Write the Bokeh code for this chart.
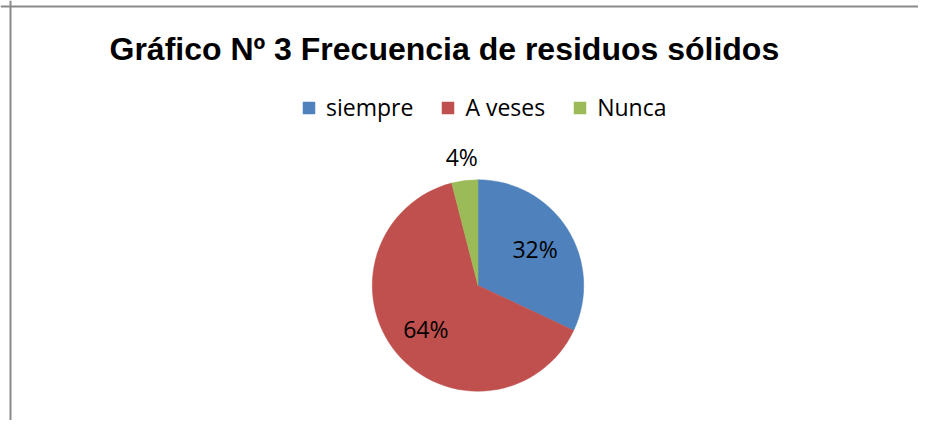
import numpy as np
from bokeh.plotting import figure
from bokeh.models import ColumnDataSource, Range1d, Span, Label, Legend, LegendItem
from bokeh.core.properties import value
from bokeh.embed import file_html
from bokeh.resources import INLINE

title = "Gráfico Nº 3  Frecuencia de residuos sólidos"
categories = ["siempre", "A veses", "Nunca"]
percents = [32, 64, 4]
colors = ["#4F81BD", "#C0504D", "#9BBB59"]

W, H = 918, 420
p = figure(width=W, height=H, output_backend="svg", toolbar_location=None,
           x_range=Range1d(0, W), y_range=Range1d(0, H), min_border=0,
           outline_line_color=None, background_fill_color="white")
p.axis.visible = False
p.xgrid.visible = False
p.ygrid.visible = False

# pie geometry (screen px inside figure)
cx, cy, r = 477.5, 135.0, 105.7

vals = np.array(percents, dtype=float)
frac = vals / vals.sum()
cum = np.concatenate([[0.0], np.cumsum(frac)])
start = np.pi / 2 - 2 * np.pi * cum[:-1]
end = np.pi / 2 - 2 * np.pi * cum[1:]
mid = (start + end) / 2

src = ColumnDataSource(dict(cat=categories, start=start, end=end, color=colors,
                            x=[cx] * 3, y=[cy] * 3))
wedges = p.wedge(x="x", y="y", radius=r, radius_units="screen", start_angle="start",
                 end_angle="end", direction="clock", fill_color="color",
                 line_color="color", line_width=0.5, source=src)

# labels: inside for big slices, outside for small
dist = np.where(frac > 0.1, 0.64 * r, r + 24)
lab = ColumnDataSource(dict(x=cx + dist * np.cos(mid), y=cy + dist * np.sin(mid),
                            t=[f"{v}%" for v in percents]))
p.text(x="x", y="y", text="t", source=lab, text_align="center", text_baseline="middle",
       text_font=value("Open Sans"), text_font_size="23px", text_color="black")

# title
p.add_layout(Label(x=109, y=372, text=title, text_font="Liberation Sans",
                   text_font_style="bold", text_font_size="32px", text_color="black",
                   text_baseline="alphabetic"))

# legend
items = [LegendItem(label=c, renderers=[wedges], index=i) for i, c in enumerate(categories)]
legend = Legend(items=items, orientation="horizontal", location=(301, 297),
                glyph_width=15, glyph_height=15, label_standoff=10, spacing=27,
                padding=0, margin=0, border_line_alpha=0, background_fill_alpha=0,
                label_text_font="Open Sans", label_text_font_size="23px",
                label_text_color="black")
p.add_layout(legend, "center")

# chart border (left and top)
p.add_layout(Span(location=10, dimension="height", line_color="#8a8a8a", line_width=2))
p.add_layout(Span(location=414, dimension="width", line_color="#8a8a8a", line_width=2))

open("out.html", "w").write(file_html(p, INLINE))
